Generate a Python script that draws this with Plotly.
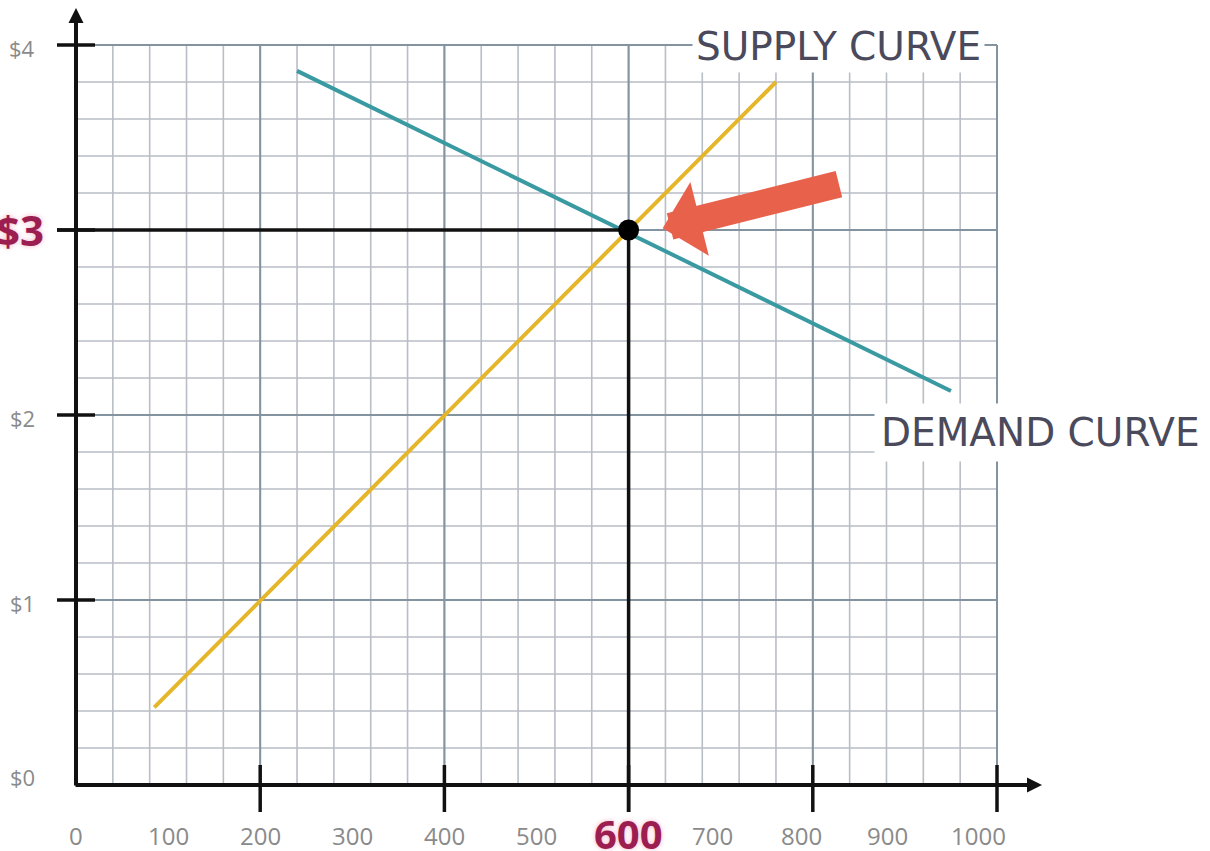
import numpy as np
import plotly.graph_objects as go

# ---------------- data ----------------
x_tick_values = [0, 100, 200, 300, 400, 500, 600, 700, 800, 900, 1000]
x_tick_labels = ["0", "100", "200", "300", "400", "500", "600", "700", "800", "900", "1000"]
y_tick_values = [0, 1, 2, 3, 4]
y_tick_labels = ["$0", "$1", "$2", "$3", "$4"]

supply_quantity = [85, 760]
supply_price = [0.42, 3.80]
demand_quantity = [240, 950]
demand_price = [3.86, 2.13]

equilibrium_quantity = 600
equilibrium_price = 3

arrow_tip = (637, 3.01)
arrow_tail = (830, 3.25)

# ---------------- styling / geometry ----------------
W, H = 1210, 851
PX_PER_Q = 0.921      # pixels per quantity unit
PX_PER_P = 185.0      # pixels per dollar
ORIGIN_PX = (76, 785)

x_range = [-ORIGIN_PX[0] / PX_PER_Q, (W - ORIGIN_PX[0]) / PX_PER_Q]
y_range = [-(H - ORIGIN_PX[1]) / PX_PER_P, ORIGIN_PX[1] / PX_PER_P]

Q_MAX, P_MAX = 1000, 4
minor_dq, minor_dp = 40, 0.2
major_dq, major_dp = 200, 1

MINOR_COLOR = "#b9bdc6"
MAJOR_COLOR = "#8393a0"
SUPPLY_COLOR = "#e5b52a"
DEMAND_COLOR = "#3a9aa2"
ARROW_COLOR = "#e8614b"
CRIMSON = "#9c1d4f"
TICK_GRAY = "#8a8a8a"
LABEL_DARK = "#4a4a5c"


def q_from_px(px):
    return px / PX_PER_Q


def p_from_px(px):
    return px / PX_PER_P


def segments(seg_list):
    xs, ys = [], []
    for (x0, y0, x1, y1) in seg_list:
        xs += [x0, x1, None]
        ys += [y0, y1, None]
    return xs, ys


fig = go.Figure()

# minor grid
minor_q = np.arange(minor_dq, Q_MAX + 1e-9, minor_dq)
minor_p = np.arange(minor_dp, P_MAX + 1e-9, minor_dp)
segs = [(q, 0, q, P_MAX) for q in minor_q] + [(0, p, Q_MAX, p) for p in minor_p]
xs, ys = segments(segs)
fig.add_trace(go.Scatter(x=xs, y=ys, mode="lines", line=dict(color=MINOR_COLOR, width=1.6),
                         hoverinfo="skip"))

# major grid
major_q = np.arange(major_dq, Q_MAX + 1e-9, major_dq)
major_p = np.arange(major_dp, P_MAX + 1e-9, major_dp)
segs = [(q, 0, q, P_MAX) for q in major_q] + [(0, p, Q_MAX, p) for p in major_p]
xs, ys = segments(segs)
fig.add_trace(go.Scatter(x=xs, y=ys, mode="lines", line=dict(color=MAJOR_COLOR, width=2),
                         hoverinfo="skip"))

# supply & demand
fig.add_trace(go.Scatter(x=supply_quantity, y=supply_price, mode="lines",
                         line=dict(color=SUPPLY_COLOR, width=4), name="Supply"))
fig.add_trace(go.Scatter(x=demand_quantity, y=demand_price, mode="lines",
                         line=dict(color=DEMAND_COLOR, width=4), name="Demand"))

# axis tick marks (major)
tick_half_q = q_from_px(19)
tick_dn_p, tick_up_p = p_from_px(27), p_from_px(20)
segs = [(-tick_half_q, p, tick_half_q, p) for p in y_tick_values if p > 0]
segs += [(q, -tick_dn_p, q, tick_up_p) for q in major_q]
xs, ys = segments(segs)
fig.add_trace(go.Scatter(x=xs, y=ys, mode="lines", line=dict(color="#111111", width=3.5),
                         hoverinfo="skip"))

# equilibrium guide lines
segs = [(-tick_half_q, equilibrium_price, equilibrium_quantity, equilibrium_price),
        (equilibrium_quantity, -tick_dn_p, equilibrium_quantity, equilibrium_price)]
xs, ys = segments(segs)
fig.add_trace(go.Scatter(x=xs, y=ys, mode="lines", line=dict(color="#111111", width=3.5),
                         hoverinfo="skip"))

# equilibrium point
fig.add_trace(go.Scatter(x=[equilibrium_quantity], y=[equilibrium_price], mode="markers",
                         marker=dict(color="#000000", size=21)))

annotations = []

# axes with arrow heads
annotations.append(dict(x=0, y=p_from_px(ORIGIN_PX[1] - 8), ax=0, ay=-p_from_px(2),
                        xref="x", yref="y", axref="x", ayref="y", text="", showarrow=True,
                        arrowhead=2, arrowwidth=4, arrowsize=0.75, arrowcolor="#111111", standoff=0))
annotations.append(dict(x=q_from_px(1042 - ORIGIN_PX[0]), y=0, ax=-q_from_px(2), ay=0,
                        xref="x", yref="y", axref="x", ayref="y", text="", showarrow=True,
                        arrowhead=2, arrowwidth=4, arrowsize=0.75, arrowcolor="#111111", standoff=0))

# red pointer arrow
annotations.append(dict(x=arrow_tip[0], y=arrow_tip[1], ax=arrow_tail[0], ay=arrow_tail[1],
                        xref="x", yref="y", axref="x", ayref="y", text="", showarrow=True,
                        arrowhead=1, arrowwidth=27, arrowsize=0.47, arrowcolor=ARROW_COLOR, standoff=0))

# x tick labels
label_xshift = {700: -8, 800: -11, 900: -17, 1000: -19}
highlight_q = equilibrium_quantity
for v, lab in zip(x_tick_values, x_tick_labels):
    if v == highlight_q:
        annotations.append(dict(x=v, y=0, text="<b>%s</b>" % lab, showarrow=False, yshift=-48,
                                font=dict(family="Open Sans", size=40, color=CRIMSON,
                                          shadow="0px 0px 5px #f5b3cb")))
    else:
        annotations.append(dict(x=v, y=0, text=lab, showarrow=False, yshift=-50,
                                xshift=label_xshift.get(v, 0),
                                font=dict(family="Open Sans", size=24, color=TICK_GRAY)))

# y tick labels
highlight_p = equilibrium_price
for v, lab in zip(y_tick_values, y_tick_labels):
    if v == highlight_p:
        annotations.append(dict(x=0, y=v, text="<b>%s</b>" % lab, showarrow=False,
                                xanchor="right", xshift=-30, yshift=1,
                                font=dict(family="Open Sans", size=42, color=CRIMSON,
                                          shadow="0px 0px 5px #f5b3cb")))
    else:
        annotations.append(dict(x=0, y=v, text=lab, showarrow=False, xshift=-54,
                                yshift=8 if v == 0 else -3,
                                font=dict(family="Open Sans", size=22, color=TICK_GRAY)))

# curve labels
annotations.append(dict(x=q_from_px(692 - ORIGIN_PX[0]), y=P_MAX, text="SUPPLY CURVE",
                        showarrow=False, xanchor="left", yanchor="middle", yshift=-1,
                        bgcolor="white", borderpad=3,
                        font=dict(family="DejaVu Sans", size=39, color=LABEL_DARK)))
annotations.append(dict(x=q_from_px(874 - ORIGIN_PX[0]), y=p_from_px(ORIGIN_PX[1] - 432),
                        text="DEMAND CURVE", showarrow=False, xanchor="left", yanchor="middle",
                        bgcolor="white", borderpad=6,
                        font=dict(family="DejaVu Sans", size=39, color=LABEL_DARK)))

fig.update_layout(
    width=W, height=H,
    margin=dict(l=0, r=0, t=0, b=0),
    paper_bgcolor="white", plot_bgcolor="white",
    showlegend=False,
    xaxis=dict(range=x_range, visible=False, fixedrange=True),
    yaxis=dict(range=y_range, visible=False, fixedrange=True),
    annotations=annotations,
)

fig.write_html("out.html", config={"displayModeBar": False},
               post_script="document.body.style.margin='0px';document.body.style.overflow='hidden';")
